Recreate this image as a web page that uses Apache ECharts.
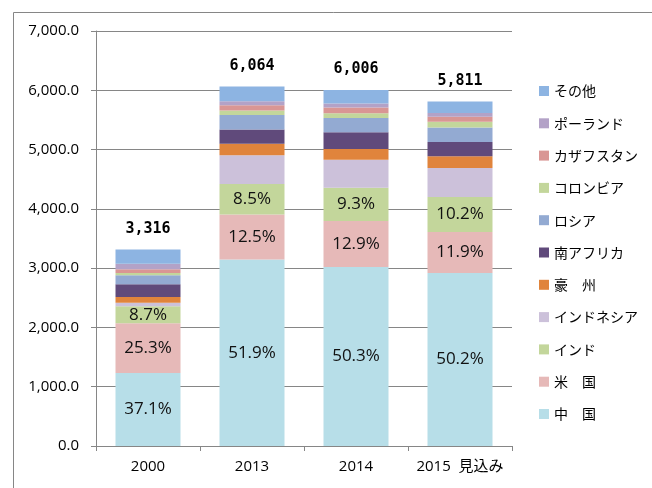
<!DOCTYPE html>
<html lang="ja">
    <head>
        <meta charset="UTF-8" />
        <title>石炭生産量</title>
        <script src="https://cdn.jsdelivr.net/npm/echarts@6/dist/echarts.min.js"></script>
        <style>
            body { margin: 0; background: #fff; }
            #chart { width: 652px; height: 488px; }
        </style>
    </head>
    <body>
        <div id="chart"></div>
        <script>
            // categories
            const years = ["2000", "2013", "2014", "2015  見込み"];

            // stacked series values (bottom to top)
            const china = [1230, 3147, 3021, 2917];
            const usa = [839, 758, 775, 692];
            const india = [288, 515, 559, 593];
            const indonesia = [60, 484, 472, 487];
            const australia = [95, 194, 183, 199];
            const southAfrica = [215, 240, 284, 238];
            const russia = [155, 244, 239, 245];
            const colombia = [38, 78, 80, 97];
            const kazakhstan = [62, 89, 97, 86];
            const poland = [92, 66, 68, 63];
            const other = [242, 249, 228, 194];

            // labels
            const totals = [3316, 6064, 6006, 5811];
            const chinaPct = ["37.1%", "51.9%", "50.3%", "50.2%"];
            const usaPct = ["25.3%", "12.5%", "12.9%", "11.9%"];
            const indiaPct = ["8.7%", "8.5%", "9.3%", "10.2%"];

            const yTicks = [0, 1000, 2000, 3000, 4000, 5000, 6000, 7000];

            const seriesDefs = [
                { name: "中　国", data: china, color: "#B7DEE8", pct: chinaPct },
                { name: "米　国", data: usa, color: "#E6B9B8", pct: usaPct },
                { name: "インド", data: india, color: "#C3D69B", pct: indiaPct },
                { name: "インドネシア", data: indonesia, color: "#CCC1DA" },
                { name: "豪　州", data: australia, color: "#E0843C" },
                { name: "南アフリカ", data: southAfrica, color: "#604A7B" },
                { name: "ロシア", data: russia, color: "#93AAD2" },
                { name: "コロンビア", data: colombia, color: "#C3D69B" },
                { name: "カザフスタン", data: kazakhstan, color: "#D99694" },
                { name: "ポーランド", data: poland, color: "#B3A2C7" },
                { name: "その他", data: other, color: "#8DB4E2" },
            ];

            const fontFamily = "'Open Sans', 'Noto Sans CJK JP', sans-serif";
            const gray = "#868686";

            const series = seriesDefs.map(function(def, i) {
                const s = {
                    name: def.name,
                    type: "bar",
                    stack: "total",
                    barCategoryGap: "37.5%",
                    data: def.data,
                    itemStyle: { color: def.color },
                    emphasis: { disabled: true },
                };
                if (def.pct) {
                    s.label = {
                        show: true,
                        position: "inside",
                        color: "#111",
                        fontFamily: fontFamily,
                        fontSize: 17,
                        formatter: p => def.pct[p.dataIndex],
                    };
                }
                if (i === seriesDefs.length - 1) {
                    s.label = {
                        show: true,
                        position: "top",
                        distance: 13,
                        color: "#000",
                        fontFamily: "'DejaVu Sans Mono', monospace",
                        fontWeight: "bold",
                        fontSize: 15,
                        formatter: p => totals[p.dataIndex].toLocaleString("en-US"),
                    };
                }
                return s;
            });

            const chart = echarts.init(document.getElementById("chart"));
            chart.setOption({
                animation: false,
                color: seriesDefs.map(d => d.color),
                graphic: [
                    {
                        type: "rect",
                        left: 11,
                        top: 10,
                        shape: { width: 700, height: 600 },
                        style: { fill: "none", stroke: gray, lineWidth: 1 },
                        z: -1,
                    },
                ],
                grid: { left: 96, right: 140, top: 31, bottom: 42 },
                legend: {
                    orient: "vertical",
                    left: 534,
                    top: 79,
                    itemWidth: 10,
                    itemHeight: 10,
                    itemGap: 18.3,
                    icon: "rect",
                    data: seriesDefs.map(d => d.name).reverse(),
                    textStyle: {
                        fontFamily: "'Noto Sans CJK JP', sans-serif",
                        fontSize: 14,
                        lineHeight: 14,
                        color: "#000",
                    },
                },
                xAxis: {
                    type: "category",
                    data: years,
                    axisLine: { lineStyle: { color: gray } },
                    axisTick: { show: true, length: 5, lineStyle: { color: gray } },
                    axisLabel: { interval: 0, color: "#000", fontFamily: fontFamily, fontSize: 15, margin: 13 },
                },
                yAxis: {
                    type: "value",
                    min: yTicks[0],
                    max: yTicks[yTicks.length - 1],
                    interval: 1000,
                    axisLine: { show: true, lineStyle: { color: gray } },
                    axisTick: { show: true, length: 5, lineStyle: { color: gray } },
                    splitLine: { lineStyle: { color: gray } },
                    axisLabel: {
                        color: "#000",
                        fontFamily: fontFamily,
                        fontSize: 15,
                        margin: 17,
                        formatter: v => v.toLocaleString("en-US", { minimumFractionDigits: 1, maximumFractionDigits: 1 }),
                    },
                },
                series: series,
            });
        </script>
    </body>
</html>
